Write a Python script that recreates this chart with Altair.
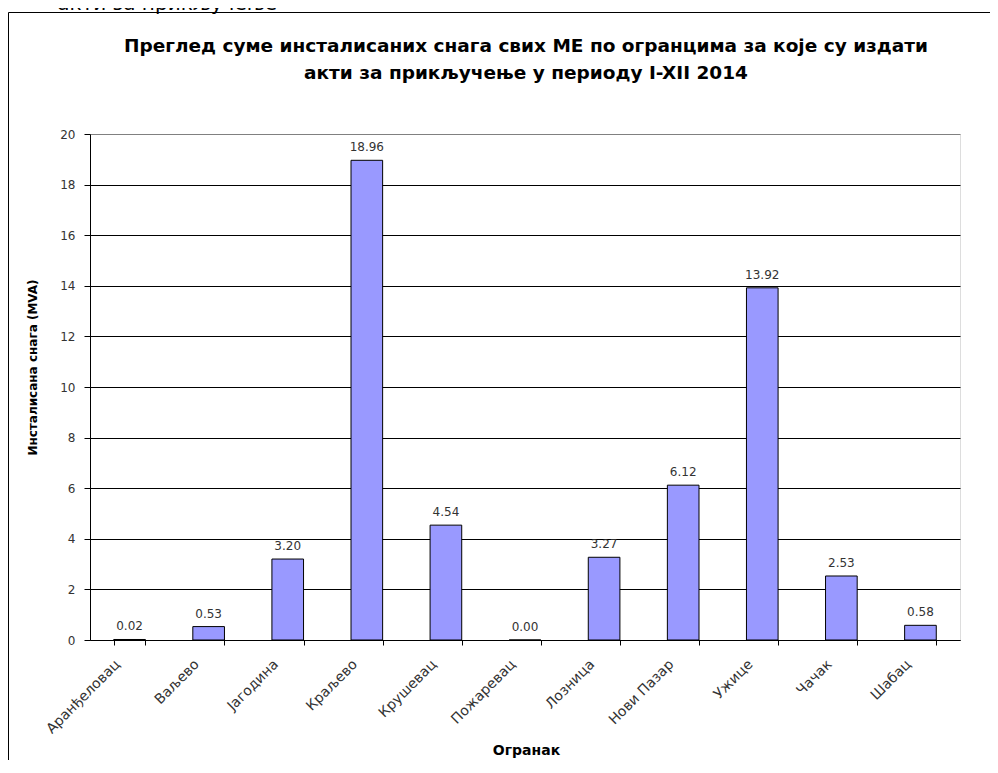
import altair as alt
import pandas as pd

categories = ["Аранђеловац", "Ваљево", "Јагодина", "Краљево", "Крушевац", "Пожаревац",
              "Лозница", "Нови Пазар", "Ужице", "Чачак", "Шабац"]
values = [0.02, 0.53, 3.20, 18.96, 4.54, 0.00, 3.27, 6.12, 13.92, 2.53, 0.58]
y_ticks = [0, 2, 4, 6, 8, 10, 12, 14, 16, 18, 20]
title_line1 = "Преглед суме инсталисаних снага свих МЕ по огранцима за које су издати"
title_line2 = "акти за прикључење у периоду I-XII 2014"
top_clipped_text = "акти за прикључење"
y_title = "Инсталисана снага (MVA)"
x_title = "Огранак"

df = pd.DataFrame({"cat": categories, "val": values})
FONT = "DejaVu Sans"

x_enc = alt.X("cat:N", sort=categories,
              scale=alt.Scale(paddingInner=0.6, paddingOuter=0.3),
              axis=alt.Axis(title=x_title, labelAngle=-45, labelFont=FONT, labelFontSize=14,
                            labelColor="#333", labelPadding=12, labelOffset=-17,
                            tickBand="extent",
                            tickColor="#000", tickSize=5, domainColor="#000",
                            titleFont=FONT, titleFontSize=14, titleFontWeight="bold",
                            titleColor="#000", titleX=436, titleY=114,
                            titleBaseline="alphabetic", titleAlign="center", grid=False))
y_enc = alt.Y("val:Q", scale=alt.Scale(domain=[0, 20], nice=False),
              axis=alt.Axis(title=y_title, values=y_ticks, labelFont=FONT, labelFontSize=12,
                            labelColor="#333", labelPadding=9, tickColor="#000", tickSize=6,
                            domainColor="#000", grid=True,
                            gridColor={"condition": {"test": "datum.value == 20", "value": "#808080"},
                                       "value": "#000"},
                            gridOpacity=1, gridWidth=1,
                            titleFont=FONT, titleFontSize=12, titleFontWeight="bold",
                            titleColor="#000", titleX=-51, titleY=233, titleAngle=-90,
                            titleAlign="center", titleBaseline="bottom"))

bars = alt.Chart(df).mark_bar(color="#9999FF", stroke="#000", strokeWidth=1).encode(
    x=x_enc, y=y_enc)

labels = alt.Chart(df).mark_text(font=FONT, fontSize=12, color="#333", baseline="alphabetic",
                                 dy=-9).encode(
    x=alt.X("cat:N", sort=categories), y="val:Q",
    text=alt.Text("val:Q", format=".2f"))

one = pd.DataFrame({"k": [0]})
frame = alt.Chart(one).mark_rect(fill=None, stroke="#000", strokeWidth=1).encode(
    x=alt.value(-81.5), x2=alt.value(1000), y=alt.value(-121.5), y2=alt.value(700))

clipped = alt.Chart(one).mark_text(font=FONT, fontSize=20, color="#000",
                                   align="right", baseline="alphabetic").encode(
    x=alt.value(187), y=alt.value(-124), text=alt.value(top_clipped_text))

t1 = alt.Chart(one).mark_text(font=FONT, fontSize=18.5, fontWeight="bold", color="#000",
                              align="center", baseline="alphabetic").encode(
    x=alt.value(436), y=alt.value(-82), text=alt.value(title_line1))
t2 = alt.Chart(one).mark_text(font=FONT, fontSize=18.5, fontWeight="bold", color="#000",
                              align="center", baseline="alphabetic").encode(
    x=alt.value(436), y=alt.value(-55), text=alt.value(title_line2))

chart = alt.layer(frame, bars, labels, clipped, t1, t2).properties(
    width=870, height=506,
    autosize=alt.AutoSizeParams(type="none"),
    padding={"left": 82, "top": 126, "right": 30, "bottom": 120},
).configure_view(stroke="#808080", fill="#C0C0C0", strokeWidth=1).configure(background="white")

chart.save("out.html", embed_options={"renderer": "svg", "actions": False})
